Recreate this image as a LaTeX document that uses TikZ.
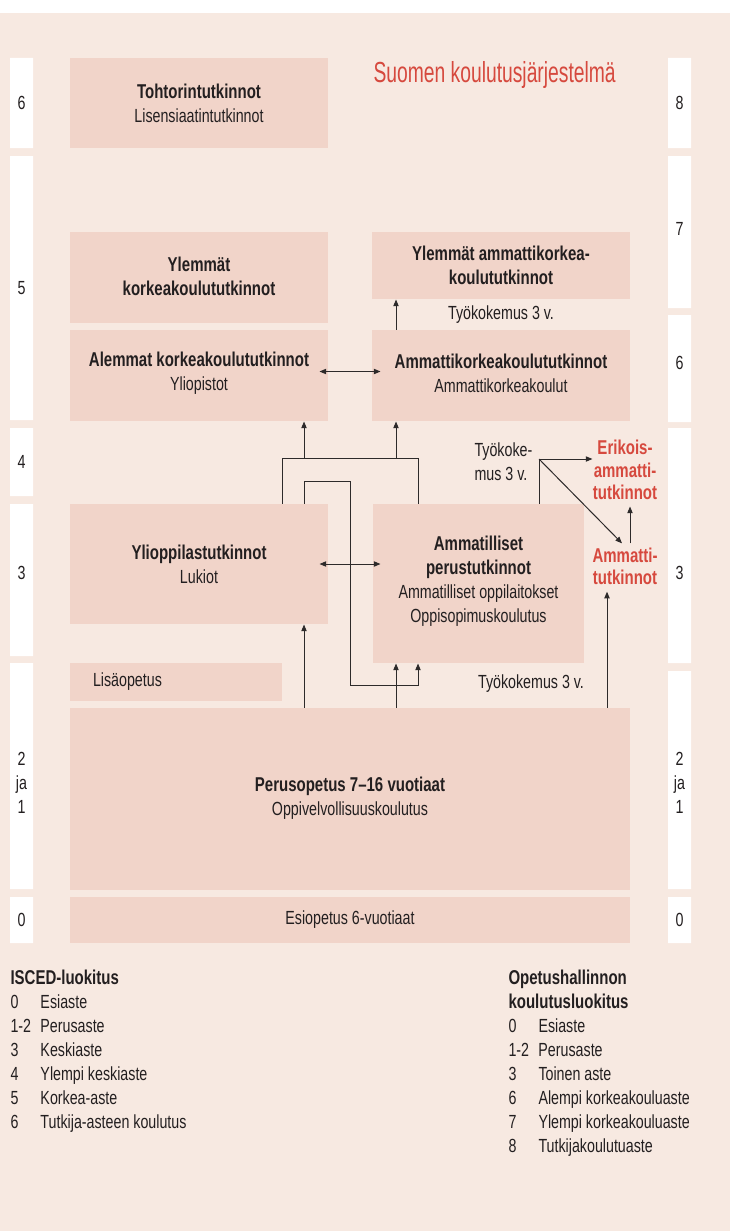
\documentclass[tikz,border=0pt]{standalone}
\usepackage{fontspec}
\setmainfont[FakeStretch=0.75]{Liberation Sans}
\newfontfamily\titlefont[FakeStretch=0.665]{Liberation Sans}
\usetikzlibrary{arrows.meta,calc,fit}

\definecolor{bgc}{RGB}{247,233,225}
\definecolor{boxc}{RGB}{241,212,201}
\definecolor{redc}{RGB}{214,73,62}
\definecolor{txtc}{RGB}{35,31,32}
\definecolor{linec}{RGB}{45,42,42}

\newcommand{\hd}[1]{{\fontsize{15pt}{18pt}\selectfont\bfseries #1}}

\tikzset{every picture/.style={line width=0.75pt}}
\tikzset{
  box/.style={fill=boxc, inner sep=0pt},
  boxtxt/.style={inner sep=0pt, align=center, text=txtc, font=\fontsize{14.25pt}{18pt}\selectfont},
  levnum/.style={inner sep=0pt, align=center, text=txtc, font=\fontsize{14.25pt}{18pt}\selectfont},
  plain/.style={inner sep=0pt, align=left, text=txtc, font=\fontsize{14.25pt}{18pt}\selectfont},
  redtxt/.style={inner sep=0pt, align=center, text=redc, font=\fontsize{15pt}{17pt}\selectfont\bfseries},
  conn/.style={draw=linec},
  arr/.style={draw=linec, -{Triangle[length=5pt,width=4pt]}},
  dblarr/.style={draw=linec, {Triangle[length=5pt,width=4pt]}-{Triangle[length=5pt,width=4pt]}}
}

\begin{document}
\begin{tikzpicture}[x=0.75pt,y=0.75pt,yscale=-1,xscale=1]
\useasboundingbox (0,0) rectangle (730,1231);

%Shape: Background
\fill[bgc] (0,13) rectangle (730,1231);

%Shape: Level bars, left
\fill[white] (10,58) rectangle (33,148) (10,156) rectangle (33,420) (10,428) rectangle (33,496) (10,504) rectangle (33,656) (10,663) rectangle (33,889) (10,897) rectangle (33,943);
%Shape: Level bars, right
\fill[white] (668,58) rectangle (691,148) (668,156) rectangle (691,308) (668,315) rectangle (691,422) (668,428) rectangle (691,663) (668,671) rectangle (691,889) (668,897) rectangle (691,943);

% Level numbers
\node[levnum] (l6) at (21.5,103) {6};
\node[levnum] (l5) at (21.5,288) {5};
\node[levnum] (l4) at (21.5,462) {4};
\node[levnum] (l3) at (21.5,573) {3};
\node[levnum] (l21) at (21.5,783) {2\\ja\\1};
\node[levnum] (l0) at (21.5,920) {0};
\node[levnum] (r8) at (679.5,103) {8};
\node[levnum] (r7) at (679.5,229) {7};
\node[levnum] (r6) at (679.5,363) {6};
\node[levnum] (r3) at (679.5,573) {3};
\node[levnum] (r21) at (679.5,783) {2\\ja\\1};
\node[levnum] (r0) at (679.5,920) {0};

% Title
\node[anchor=base west, inner sep=0pt, text=redc, font=\titlefont\fontsize{21.75pt}{24pt}\selectfont] (title) at (373,83) {Suomen koulutusjärjestelmä};

%Shape: Rectangle boxes
\node[box, fit={(70,58) (328,148)}] (tohtori) {};
\node[box, fit={(70,232) (328,323)}] (ylkk) {};
\node[box, fit={(372,232) (630,299)}] (ylamk) {};
\node[box, fit={(70,330) (328,421)}] (alkk) {};
\node[box, fit={(372,330) (630,421)}] (amk) {};
\node[box, fit={(70,504) (328,624)}] (ylio) {};
\node[box, fit={(373,504) (584,663)}] (ammper) {};
\node[box, fit={(70,663) (282,701)}] (lisa) {};
\node[box, fit={(70,708) (630,890)}] (perus) {};
\node[box, fit={(70,897) (630,943)}] (esi) {};

% Box texts
\node[boxtxt] (tohtoriT) at (tohtori) {\hd{Tohtorintutkinnot}\\Lisensiaatintutkinnot};
\node[boxtxt] (ylkkT) at ($(ylkk)+(0,-1)$) {\hd{Ylemmät}\\\hd{korkeakoulututkinnot}};
\node[boxtxt] (ylamkT) at (ylamk) {\hd{Ylemmät ammattikorkea-}\\\hd{koulututkinnot}};
\node[boxtxt] (alkkT) at ($(alkk)+(0,-2)$) {\hd{Alemmat korkeakoulututkinnot}\\Yliopistot};
\node[boxtxt] (amkT) at ($(amk)+(0,-2)$) {\hd{Ammattikorkeakoulututkinnot}\\Ammattikorkeakoulut};
\node[boxtxt] (ylioT) at (ylio) {\hd{Ylioppilastutkinnot}\\Lukiot};
\node[boxtxt] (ammperT) at ($(ammper)+(0,-2)$) {\hd{Ammatilliset}\\\hd{perustutkinnot}\\Ammatilliset oppilaitokset\\Oppisopimuskoulutus};
\node[plain, anchor=west] (lisaT) at ($(lisa.west)+(23,0)$) {Lisäopetus};
\node[boxtxt] (perusT) at ($(perus)+(0,-1)$) {\hd{Perusopetus 7–16 vuotiaat}\\Oppivelvollisuuskoulutus};
\node[boxtxt] (esiT) at (esi) {Esiopetus 6-vuotiaat};

% Text Node
\node[plain] (tyo1) at (501,315) {Työkokemus 3 v.};
\node[plain, anchor=west] (tyo2) at (474,461.5) {Työkoke-\\mus 3 v.};
\node[plain] (tyo3) at (531,684) {Työkokemus 3 v.};
\node[redtxt] (erik) at (625,470) {Erikois-\\ammatti-\\tutkinnot};
\node[redtxt] (ammt) at (625,566.5) {Ammatti-\\tutkinnot};

% Connectors
\coordinate (j1) at (282,458);
\coordinate (j2) at (418,458);
\coordinate (j3) at (304,458);
\coordinate (j4) at (396,458);
\draw[conn] (ylio.north -| j1) -- (j1) -- (j2) -- (ammper.north -| j2);
\draw[arr] (j3) -- (alkk.south -| j3);
\draw[arr] (j4) -- (amk.south -| j4);

\coordinate (k1) at (304,481);
\coordinate (k2) at (350,481);
\coordinate (k3) at (350,685);
\coordinate (k4) at (418,685);
\draw[arr] (ylio.north -| k1) -- (k1) -- (k2) -- (k3) -- (k4) -- (ammper.south -| k4);

\draw[arr] (perus.north -| j3) -- (ylio.south -| j3);
\draw[arr] (perus.north -| j4) -- (ammper.south -| j4);
\draw[arr] (amk.north -| j4) -- (ylamk.south -| j4);

\draw[dblarr] ($(alkk.east)+(-9,-4)$) -- ($(amk.west |- alkk.east)+(9,-4)$);
\draw[dblarr] ($(ylio.east)+(-9,0)$) -- ($(ammper.west |- ylio.east)+(8,0)$);

\coordinate (w1) at (539,459);
\coordinate (e1) at (630,0);
\coordinate (g1) at (607,0);
\draw[conn] (ammper.north -| w1) -- (w1);
\draw[arr] (w1) -- (erik.west |- w1);
\draw[arr] (w1) -- ($(ammt.north)+(-3,-4)$);
\draw[arr] ($(ammt.north -| e1)+(0,-4)$) -- ($(erik.south -| e1)+(0,6)$);
\draw[arr] (perus.north -| g1) -- ($(ammt.south -| g1)+(0,6)$);

% Legends
\node[plain, anchor=north west] (isced) at (10,969) {\hd{ISCED-luokitus}\\\makebox[22.5pt][l]{0}Esiaste\\\makebox[22.5pt][l]{1-2}Perusaste\\\makebox[22.5pt][l]{3}Keskiaste\\\makebox[22.5pt][l]{4}Ylempi keskiaste\\\makebox[22.5pt][l]{5}Korkea-aste\\\makebox[22.5pt][l]{6}Tutkija-asteen koulutus};
\node[plain, anchor=north west] (oph) at (508,969) {\hd{Opetushallinnon}\\\hd{koulutusluokitus}\\\makebox[22.5pt][l]{0}Esiaste\\\makebox[22.5pt][l]{1-2}Perusaste\\\makebox[22.5pt][l]{3}Toinen aste\\\makebox[22.5pt][l]{6}Alempi korkeakouluaste\\\makebox[22.5pt][l]{7}Ylempi korkeakouluaste\\\makebox[22.5pt][l]{8}Tutkijakoulutuaste};

\end{tikzpicture}
\end{document}
